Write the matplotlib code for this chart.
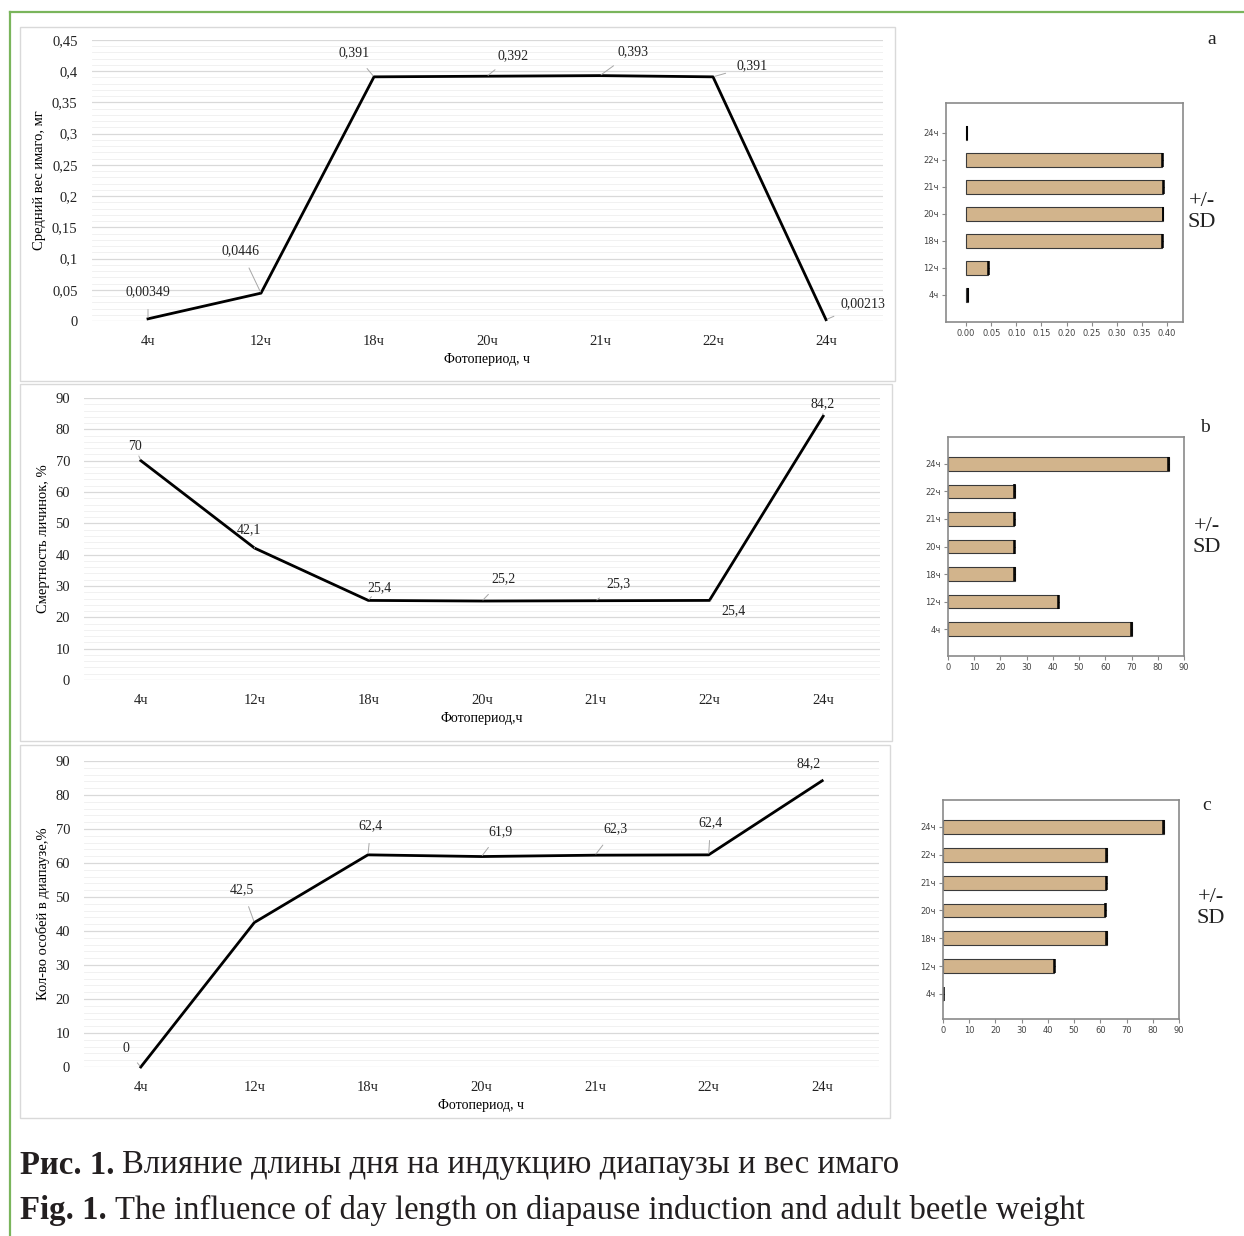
import numpy as np
import matplotlib.pyplot as plt
from matplotlib.patches import Rectangle
from matplotlib.lines import Line2D
from matplotlib.ticker import MultipleLocator, FuncFormatter

# data
periods = ['4ч', '12ч', '18ч', '20ч', '21ч', '22ч', '24ч']
weight = [0.00349, 0.0446, 0.391, 0.392, 0.393, 0.391, 0.00213]
weight_lbl = ['0,00349', '0,0446', '0,391', '0,392', '0,393', '0,391', '0,00213']
mortality = [70, 42.1, 25.4, 25.2, 25.3, 25.4, 84.2]
mortality_lbl = ['70', '42,1', '25,4', '25,2', '25,3', '25,4', '84,2']
diapause = [0, 42.5, 62.4, 61.9, 62.3, 62.4, 84.2]
diapause_lbl = ['0', '42,5', '62,4', '61,9', '62,3', '62,4', '84,2']
sd_weight = [0.0005, 0.0005, 0.0005, 0.0005, 0.0005, 0.0005, 0.0005]
sd_pct = [0.2, 0.2, 0.2, 0.2, 0.2, 0.2, 0.2]

W, H = 1244, 1236
fig = plt.figure(figsize=(W / 100, H / 100), dpi=100)
SERIF = 'Liberation Serif'


def px_axes(x0, y0, x1, y1):
    # pixel box (top-left origin) -> figure axes
    return fig.add_axes([x0 / W, 1 - y1 / H, (x1 - x0) / W, (y1 - y0) / H])


def px_rect(x0, y0, x1, y1, **kw):
    fig.patches.append(Rectangle((x0 / W, 1 - y1 / H), (x1 - x0) / W, (y1 - y0) / H,
                                 transform=fig.transFigure, fill=False, **kw))


def fmt_comma(v, pos):
    s = f'{v:.2f}'.rstrip('0').rstrip('.')
    return s.replace('.', ',')


def line_panel(box, area, vals, lbls, offs, ymax, major, minor, ylabel, xlabel):
    px_rect(*box, edgecolor='#d9d9d9', lw=1.0)
    ax = px_axes(*area)
    x = np.arange(len(vals))
    ax.set_xlim(-0.5, len(vals) - 0.5)
    ax.set_ylim(0, ymax)
    ax.yaxis.set_major_locator(MultipleLocator(major))
    ax.yaxis.set_minor_locator(MultipleLocator(minor))
    ax.yaxis.set_major_formatter(FuncFormatter(fmt_comma))
    ax.grid(True, which='major', axis='y', color='#d9d9d9', lw=0.9)
    ax.grid(True, which='minor', axis='y', color='#efefef', lw=0.6)
    ax.set_axisbelow(True)
    for s in ax.spines.values():
        s.set_visible(False)
    ax.tick_params(axis='both', which='both', length=0, colors='#222222', labelsize=10.5)
    ax.tick_params(axis='y', pad=10)
    ax.tick_params(axis='x', pad=10)
    ax.set_xticks(x)
    ax.set_xticklabels(periods)
    for t in ax.get_xticklabels() + ax.get_yticklabels():
        t.set_fontfamily(SERIF)
    ax.plot(x, vals, color='black', lw=2.0, solid_joinstyle='round', zorder=3, clip_on=False)
    for xi, v, lb, (dx, dy) in zip(x, vals, lbls, offs):
        ax.annotate(lb, (xi, v), xytext=(dx, dy), textcoords='offset pixels',
                    ha='center', va='center', fontsize=10, family=SERIF, color='#222222',
                    arrowprops=dict(arrowstyle='-', color='#a6a6a6', lw=0.7,
                                    shrinkA=6, shrinkB=1))
    ax.set_ylabel(ylabel, family=SERIF, fontsize=10.5, labelpad=4)
    ax.set_xlabel(xlabel, family=SERIF, fontsize=10, labelpad=4)
    return ax


line_panel((20, 27, 895, 381), (91.5, 40, 882.5, 321), weight, weight_lbl,
           [(0, 27), (-20, 42), (-20, 24), (26, 21), (33, 24), (39, 11), (37, 16)],
           0.45, 0.05, 0.01, 'Средний вес имаго, мг', 'Фотопериод, ч')
line_panel((20, 384, 892, 741), (84, 398, 880, 680), mortality, mortality_lbl,
           [(-6, 14), (-6, 18), (11, 13), (21, 22), (23, 17), (24, -10), (-1, 12)],
           90, 10, 2, 'Смертность личинок, %', 'Фотопериод,ч')
line_panel((20, 745, 890, 1118), (84, 761, 879, 1067), diapause, diapause_lbl,
           [(-15, 18), (-12, 33), (3, 29), (19, 25), (20, 26), (2, 32), (-14, 17)],
           90, 10, 2, 'Кол-во особей в диапаузе,%', 'Фотопериод, ч')


def bar_panel(area, vals, sd, xlim, xticks, xfmt, ylim, letter, letter_xy, sd_xy):
    ax = px_axes(*area)
    y = np.arange(len(vals))
    ax.barh(y, vals, height=0.5, color='#d2b48c', edgecolor='#3a3a3a', lw=0.8,
            xerr=sd, error_kw=dict(ecolor='black', elinewidth=0.8, capsize=4.8, capthick=1.1))
    ax.set_xlim(*xlim)
    ax.set_ylim(*ylim)
    ax.set_xticks(xticks)
    ax.xaxis.set_major_formatter(FuncFormatter(xfmt))
    ax.set_yticks(y)
    ax.set_yticklabels(periods)
    for s in ax.spines.values():
        s.set_color('#8a8a8a')
        s.set_linewidth(1.2)
    ax.tick_params(axis='both', length=3, width=0.8, color='#8a8a8a', labelsize=6,
                   labelcolor='#444444', pad=2)
    fig.text(letter_xy[0] / W, 1 - letter_xy[1] / H, letter, family=SERIF, fontsize=14,
             ha='center', va='center', color='#222222')
    fig.text(sd_xy[0] / W, 1 - sd_xy[1] / H, '+/-\nSD', family=SERIF, fontsize=16,
             ha='center', va='center', color='#222222', linespacing=1.2)
    return ax


bar_panel((946, 103, 1183, 322), weight, sd_weight, (-0.04, 0.432),
          np.arange(0, 0.41, 0.05), lambda v, p: f'{v:.2f}', (-1, 7.1), 'a', (1212, 40), (1202, 212))
bar_panel((948, 437, 1184, 656), mortality, sd_pct, (0, 90),
          np.arange(0, 91, 10), lambda v, p: f'{v:.0f}', (-0.98, 6.98), 'b', (1205, 428), (1207, 537))
bar_panel((943, 800, 1179, 1019), diapause, sd_pct, (0, 90),
          np.arange(0, 91, 10), lambda v, p: f'{v:.0f}', (-0.9, 6.97), 'c', (1207, 805), (1211, 908))

# green frame
green = '#7ab55c'
fig.add_artist(Line2D([10 / W, 1], [1 - 12 / H, 1 - 12 / H], transform=fig.transFigure, color=green, lw=1.6))
fig.add_artist(Line2D([10 / W, 10 / W], [0, 1 - 12 / H], transform=fig.transFigure, color=green, lw=1.6))

# caption
renderer = fig.canvas.get_renderer()


def caption(y, bold, rest):
    t = fig.text(20 / W, 1 - y / H, bold, family=SERIF, fontweight='bold', fontsize=23.6,
                 va='center', color='#231f20')
    bb = t.get_window_extent(renderer)
    fig.text((bb.x1 + 8) / W, 1 - y / H, rest, family=SERIF, fontsize=23.6,
             va='center', color='#231f20')


caption(1165, 'Рис. 1.', 'Влияние длины дня на индукцию диапаузы и вес имаго')
caption(1210, 'Fig. 1.', 'The influence of day length on diapause induction and adult beetle weight')

fig.savefig('out.png', dpi=100)
